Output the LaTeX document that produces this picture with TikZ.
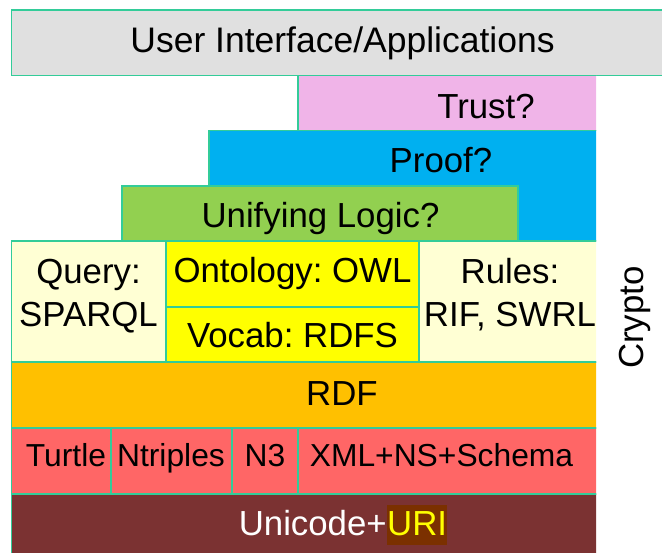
\documentclass[tikz,border=0pt]{standalone}
\usepackage{fontspec}
\setmainfont{Liberation Sans}
\frenchspacing
\definecolor{edge}{HTML}{33CC99}
\definecolor{cui}{HTML}{E0E0E0}
\definecolor{ctrust}{HTML}{F0B4E8}
\definecolor{cproof}{HTML}{00B0F0}
\definecolor{clogic}{HTML}{92D050}
\definecolor{cpale}{HTML}{FFFFD4}
\definecolor{cyel}{HTML}{FFFF00}
\definecolor{crdf}{HTML}{FFC000}
\definecolor{cfmt}{HTML}{FF6666}
\definecolor{cuni}{HTML}{7B3232}
\definecolor{curi}{HTML}{7B3000}
\begin{document}
\frenchspacing
\begin{tikzpicture}[x=1pt,y=-1pt,
  lay/.style={draw=edge, line width=1.2pt},
  lbl/.style={font=\fontsize{34.8}{43.5}\selectfont\frenchspacing, inner sep=0pt, anchor=base, align=center},
  small/.style={font=\fontsize{31.8}{38}\selectfont\frenchspacing}]
\useasboundingbox (0,0) rectangle (662,553);
\clip (0,0) rectangle (662,553);
% top layer
\draw[lay, fill=cui] (11.5,10) rectangle (680,75.5);
% stack, cut at the right
\begin{scope}
\clip (0,0) rectangle (596,560);
\draw[lay, fill=ctrust] (298,75.5) rectangle (610,130.5);
\draw[lay, fill=cproof] (209,130.5) rectangle (610,241);
\draw[lay, fill=clogic] (122,186) rectangle (518,241);
\draw[lay, fill=cpale] (11.5,241) rectangle (166,362);
\draw[lay, fill=cyel] (166,241) rectangle (419,307);
\draw[lay, fill=cyel] (166,307) rectangle (419,362);
\draw[lay, fill=cpale] (419,241) rectangle (610,362);
\draw[lay, fill=crdf] (11.5,362) rectangle (610,428);
\draw[lay, fill=cfmt] (11.5,428) rectangle (111,494);
\draw[lay, fill=cfmt] (111,428) rectangle (232,494);
\draw[lay, fill=cfmt] (232,428) rectangle (298,494);
\draw[lay, fill=cfmt] (298,428) rectangle (610,494);
\draw[lay, fill=cuni] (11.5,494) rectangle (610,570);
\end{scope}
% labels
\node[lbl, font=\fontsize{35.5}{43}\selectfont] (ui) at (342.5,53) {User Interface/Applications};
\node[lbl] (trust) at (486,119) {Trust?};
\node[lbl] (proof) at (441,173) {Proof?};
\node[lbl] (logic) at (320.5,228) {Unifying Logic?};
\node[lbl] (query) at (88.5,327) {Query:\\SPARQL};
\node[lbl] (owl) at (292.5,283) {Ontology: OWL};
\node[lbl] (rdfs) at (292.5,348) {Vocab: RDFS};
\node[lbl] (rules) at (510,327) {Rules:\\RIF, SWRL};
\node[lbl] (rdf) at (342,405.5) {RDF};
\node[lbl, small] (turtle) at (66,466.5) {Turtle};
\node[lbl, small] (ntriples) at (171,466.5) {Ntriples};
\node[lbl, small] (n3) at (265,466.5) {N3};
\node[lbl, small] (xml) at (441.5,466.5) {XML+NS+Schema};
\node[lbl, anchor=base east, text=white] (unicode) at (387,536) {Unicode+};
\node[lbl, anchor=base west, text=cyel, fill=curi, text height=31pt, text depth=9pt] (uri) at (387,536) {URI};
\node[lbl, rotate=90] (crypto) at (643,317.5) {Crypto};
\end{tikzpicture}
\end{document}
